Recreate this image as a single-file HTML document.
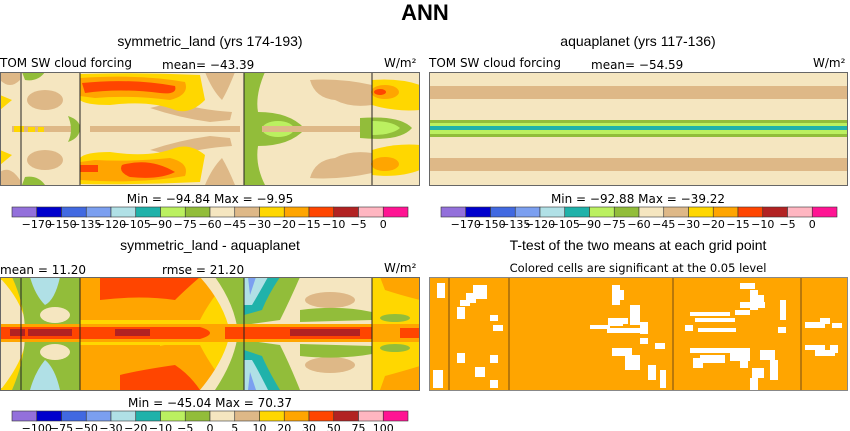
<!DOCTYPE html>
<html><head><meta charset="utf-8"><style>
html,body{margin:0;padding:0;background:#fff;width:850px;height:431px;overflow:hidden}
svg{display:block;font-family:"Liberation Sans",sans-serif}
.t{font-size:14px;fill:#000}
.s{font-size:12px;fill:#000;font-family:"DejaVu Sans","Liberation Sans",sans-serif}
.k{font-size:11px;fill:#000;font-family:"DejaVu Sans","Liberation Sans",sans-serif}
.c{font-size:11.5px;fill:#000;font-family:"DejaVu Sans","Liberation Sans",sans-serif}
</style></head><body>
<svg id="fig" width="850" height="431" viewBox="0 0 850 431">
<defs>
<clipPath id="c1"><rect x="0" y="72" width="420" height="113"/></clipPath>
<clipPath id="c2"><rect x="429" y="72" width="419" height="113"/></clipPath>
<clipPath id="c3"><rect x="0" y="277" width="420" height="113"/></clipPath>
<clipPath id="c4"><rect x="429" y="277" width="419" height="113"/></clipPath>
</defs>
<text x="425" y="20" text-anchor="middle" style="font-size:22px;font-weight:bold">ANN</text>

<!-- Panel 1 -->
<text class="t" x="210" y="46" text-anchor="middle">symmetric_land (yrs 174-193)</text>
<text class="s" x="0" y="67">TOM SW cloud forcing</text>
<text class="s" x="162" y="69">mean= −43.39</text>
<text class="s" x="384" y="67">W/m²</text>
<g clip-path="url(#c1)">
<rect x="0" y="72" width="420" height="113" fill="#f5e6c0"/>
<path d="M150 108 Q180 118 210 122 L230 120 L232 112 Q200 110 175 102 Z" fill="#deb887"/>
<path d="M150 150 Q180 140 210 136 L230 138 L232 146 Q200 148 175 156 Z" fill="#deb887"/>
<rect x="90" y="126" width="150" height="6" fill="#deb887"/>
<path d="M205 72 L235 72 Q228 90 222 100 Q212 90 205 72Z" fill="#deb887"/>
<path d="M205 185 L235 185 Q228 168 222 158 Q212 168 205 185Z" fill="#deb887"/>
<ellipse cx="45" cy="100" rx="18" ry="10" fill="#deb887"/>
<ellipse cx="45" cy="160" rx="18" ry="10" fill="#deb887"/>
<rect x="12" y="126" width="68" height="6" fill="#deb887"/>
<path d="M0 80 Q10 90 20 80 L20 72 L0 72Z" fill="#deb887"/>
<path d="M0 185 L0 172 Q10 165 20 180 L20 185Z" fill="#deb887"/>
<path d="M80 74 Q140 72 200 75 L205 100 Q190 115 175 110 Q150 100 110 105 Q85 105 80 100Z" fill="#ffd700"/>
<path d="M80 184 Q140 185 200 182 L205 155 Q190 143 175 148 Q150 158 110 152 Q85 152 80 158Z" fill="#ffd700"/>
<path d="M80 78 Q140 74 185 82 Q190 95 170 100 Q130 95 95 98 L80 96Z" fill="#ffa500"/>
<path d="M80 180 Q140 184 185 176 Q190 163 170 158 Q130 162 95 160 L80 162Z" fill="#ffa500"/>
<path d="M82 83 Q130 78 175 86 Q178 95 160 93 Q120 88 85 93Z" fill="#ff4500"/>
<path d="M122 165 Q150 157 175 172 Q160 180 130 177 Q118 172 122 165Z" fill="#ff4500"/>
<rect x="80" y="165" width="18" height="7" fill="#ff4500"/>
<path d="M0 95 L12 100 L0 110Z" fill="#ffd700"/>
<path d="M0 150 L12 155 L0 165Z" fill="#ffd700"/>
<rect x="14" y="126" width="10" height="6" fill="#ffd700"/>
<rect x="28" y="127" width="7" height="5" fill="#ffd700"/>
<rect x="38" y="127" width="6" height="5" fill="#ffd700"/>
<path d="M22 72 L45 72 Q38 82 25 80Z M22 185 L45 185 Q38 175 25 177Z" fill="#92bd3a"/>
<path d="M68 116 Q80 120 80 128 Q80 138 68 142 Q74 130 68 116Z" fill="#92bd3a"/>
<path d="M244 72 L265 72 Q255 95 258 112 Q290 112 305 129 Q290 146 258 146 Q255 165 265 185 L244 185Z" fill="#92bd3a"/>
<ellipse cx="278" cy="129" rx="16" ry="8" fill="#bbf060"/>
<path d="M310 80 Q340 78 372 85 L372 105 Q350 108 335 100 Q315 98 310 80Z" fill="#deb887"/>
<path d="M310 178 Q340 180 372 173 L372 153 Q350 150 335 158 Q315 160 310 178Z" fill="#deb887"/>
<rect x="262" y="126" width="100" height="6" fill="#deb887"/>
<path d="M372 72 L420 72 L420 185 L372 185Z" fill="#f5e6c0"/>
<path d="M372 80 Q400 78 420 85 L420 110 Q395 112 372 105Z" fill="#ffd700"/>
<path d="M372 175 Q400 178 420 170 L420 145 Q395 143 372 150Z" fill="#ffd700"/>
<ellipse cx="385" cy="92" rx="14" ry="7" fill="#ffa500"/>
<ellipse cx="385" cy="164" rx="14" ry="7" fill="#ffa500"/>
<ellipse cx="380" cy="92" rx="6" ry="3" fill="#ff4500"/>
<path d="M360 118 Q400 115 412 128 Q400 142 360 138Z" fill="#92bd3a"/>
<path d="M372 121 Q392 121 400 128 Q392 135 372 135Z" fill="#bbf060"/>
<line x1="21" y1="72" x2="21" y2="185" stroke="#222"/><line x1="80" y1="72" x2="80" y2="185" stroke="#222"/>
<line x1="244" y1="72" x2="244" y2="185" stroke="#222"/><line x1="372" y1="72" x2="372" y2="185" stroke="#222"/>
</g>
<rect x="0.5" y="72.5" width="419" height="113" fill="none" stroke="#666"/>
<text class="s" x="210" y="203" text-anchor="middle">Min = −94.84 Max =  −9.95</text>
<g id="cb1"></g>

<!-- Panel 2 -->
<text class="t" x="638" y="46" text-anchor="middle">aquaplanet (yrs 117-136)</text>
<text class="s" x="429" y="67">TOM SW cloud forcing</text>
<text class="s" x="591" y="69">mean= −54.59</text>
<text class="s" x="813" y="67">W/m²</text>
<g clip-path="url(#c2)">
<rect x="429" y="72" width="419" height="113" fill="#f5e6c0"/>
<rect x="429" y="86" width="419" height="13" fill="#deb887"/>
<rect x="429" y="158" width="419" height="13" fill="#deb887"/>
<rect x="429" y="120" width="419" height="17" fill="#92bd3a"/>
<rect x="429" y="123" width="419" height="11" fill="#bbf060"/>
<rect x="429" y="126" width="419" height="4" fill="#20b2aa"/>
</g>
<rect x="429.5" y="72.5" width="418" height="113" fill="none" stroke="#666"/>
<text class="s" x="638" y="203" text-anchor="middle">Min = −92.88 Max = −39.22</text>
<g id="cb2"></g>

<!-- Panel 3 -->
<text class="t" x="210" y="250" text-anchor="middle">symmetric_land - aquaplanet</text>
<text class="s" x="0" y="274">mean =  11.20</text>
<text class="s" x="162" y="274">rmse =  21.20</text>
<text class="s" x="384" y="272">W/m²</text>
<g clip-path="url(#c3)">
<rect x="0" y="277" width="420" height="113" fill="#ffd700"/>
<path d="M80 277 L230 277 Q210 300 200 320 L80 320Z" fill="#ffa500"/>
<path d="M80 390 L230 390 Q210 365 200 345 L80 345Z" fill="#ffa500"/>
<path d="M100 277 L200 277 Q185 290 175 300 Q140 295 100 300Z" fill="#ff4500"/>
<path d="M120 390 L200 390 Q190 375 175 365 Q140 370 120 375Z" fill="#ff4500"/>
<path d="M200 277 L244 277 L244 390 L200 390 Q225 360 230 333 Q225 305 200 277Z" fill="#f5e6c0"/>
<path d="M215 277 L244 277 L244 390 L215 390 Q235 360 238 333 Q235 305 215 277Z" fill="#92bd3a"/>
<path d="M2 280 Q20 300 25 320 L25 345 Q20 365 2 388 L0 388 L0 280Z" fill="#f5e6c0"/>
<path d="M12 277 L80 277 L80 390 L12 390 Q25 360 25 333 Q25 305 12 277Z" fill="#92bd3a"/>
<path d="M30 277 L60 277 Q55 300 45 305 Q35 295 30 277Z" fill="#b0e0e6"/>
<path d="M30 390 L60 390 Q55 368 45 360 Q35 372 30 390Z" fill="#b0e0e6"/>
<ellipse cx="55" cy="315" rx="15" ry="8" fill="#f5e6c0"/><ellipse cx="55" cy="352" rx="15" ry="8" fill="#f5e6c0"/>
<path d="M244 277 L372 277 L372 390 L244 390Z" fill="#f5e6c0"/>
<path d="M244 277 L300 277 Q290 300 280 320 L244 325Z" fill="#92bd3a"/>
<path d="M244 390 L300 390 Q290 365 280 345 L244 340Z" fill="#92bd3a"/>
<path d="M244 277 L280 277 Q268 295 262 310 L244 315Z" fill="#20b2aa"/>
<path d="M244 390 L280 390 Q268 370 262 356 L244 350Z" fill="#20b2aa"/>
<path d="M244 277 L268 277 Q258 295 252 305 L244 305Z" fill="#b0e0e6"/>
<path d="M244 390 L268 390 Q258 370 252 360 L244 360Z" fill="#b0e0e6"/>
<path d="M248 277 L256 277 L250 295Z M248 390 L256 390 L250 372Z" fill="#7b9ff0"/>
<ellipse cx="330" cy="300" rx="25" ry="8" fill="#deb887"/><ellipse cx="330" cy="365" rx="25" ry="8" fill="#deb887"/>
<path d="M300 310 Q340 305 372 312 L372 320 L300 322Z M300 356 Q340 360 372 354 L372 346 L300 344Z" fill="#92bd3a"/>
<path d="M160 320 Q200 330 244 333 Q200 337 160 346Z" fill="#ffd700"/>
<path d="M372 277 L420 277 L420 390 L372 390Z" fill="#ffd700"/>
<path d="M380 277 L420 277 L420 300 Q400 295 385 290Z M380 390 L420 390 L420 366 Q400 372 385 376Z" fill="#ffa500"/>
<ellipse cx="395" cy="318" rx="15" ry="4" fill="#92bd3a"/><ellipse cx="395" cy="348" rx="15" ry="4" fill="#92bd3a"/>
<rect x="0" y="324" width="420" height="18" fill="#ffa500"/>
<path d="M0 327 L200 327 Q220 333 200 339 L0 339Z" fill="#ff4500"/>
<path d="M225 327 L372 327 L372 339 L225 339Z" fill="#ff4500"/>
<rect x="400" y="328" width="20" height="10" fill="#ff4500"/>
<rect x="10" y="329" width="15" height="7" fill="#b22222"/>
<rect x="28" y="329" width="44" height="7" fill="#b22222"/>
<rect x="115" y="329" width="35" height="7" fill="#b22222"/>
<rect x="290" y="329" width="70" height="7" fill="#b22222"/>
<line x1="21" y1="277" x2="21" y2="390" stroke="#222"/><line x1="80" y1="277" x2="80" y2="390" stroke="#222"/>
<line x1="244" y1="277" x2="244" y2="390" stroke="#222"/><line x1="372" y1="277" x2="372" y2="390" stroke="#222"/>
</g>
<rect x="0.5" y="277.5" width="419" height="113" fill="none" stroke="#666"/>
<text class="s" x="210" y="407" text-anchor="middle">Min = −45.04 Max =  70.37</text>
<g id="cb3"></g>

<!-- Panel 4 -->
<text class="t" x="638" y="250" text-anchor="middle">T-test of the two means at each grid point</text>
<text class="c" x="638" y="272" text-anchor="middle">Colored cells are significant at the 0.05 level</text>
<g clip-path="url(#c4)">
<rect x="429" y="277" width="419" height="113" fill="#ffa500"/>
<g fill="#fff">
<rect x="437" y="283" width="8" height="15"/><rect x="433" y="370" width="10" height="18"/>
<rect x="473" y="285" width="14" height="14"/><rect x="466" y="293" width="10" height="10"/><rect x="460" y="300" width="10" height="6"/>
<rect x="457" y="307" width="8" height="12"/><rect x="490" y="315" width="8" height="6"/><rect x="493" y="325" width="10" height="6"/>
<rect x="457" y="353" width="8" height="10"/><rect x="475" y="367" width="10" height="10"/><rect x="490" y="355" width="8" height="8"/><rect x="490" y="380" width="8" height="8"/>
<rect x="612" y="285" width="8" height="20"/><rect x="618" y="290" width="6" height="10"/>
<rect x="630" y="305" width="10" height="20"/><rect x="608" y="318" width="20" height="6"/><rect x="608" y="320" width="15" height="6"/>
<rect x="607" y="328" width="40" height="5"/><rect x="590" y="325" width="20" height="4"/><rect x="640" y="322" width="8" height="12"/>
<rect x="640" y="338" width="8" height="6"/><rect x="655" y="343" width="10" height="6"/>
<rect x="612" y="348" width="20" height="8"/><rect x="625" y="355" width="15" height="15"/><rect x="648" y="365" width="8" height="15"/>
<rect x="660" y="370" width="6" height="18"/>
<rect x="740" y="283" width="15" height="6"/><rect x="750" y="290" width="8" height="20"/><rect x="740" y="302" width="25" height="6"/>
<rect x="758" y="295" width="6" height="8"/><rect x="780" y="300" width="6" height="20"/><rect x="735" y="310" width="15" height="5"/>
<rect x="690" y="312" width="40" height="4"/><rect x="695" y="318" width="40" height="4"/><rect x="685" y="325" width="8" height="6"/>
<rect x="698" y="328" width="20" height="4"/><rect x="716" y="328" width="20" height="4"/><rect x="778" y="327" width="8" height="6"/>
<rect x="690" y="348" width="60" height="5"/><rect x="700" y="355" width="25" height="8"/><rect x="693" y="358" width="10" height="10"/><rect x="730" y="353" width="20" height="8"/>
<rect x="760" y="350" width="15" height="10"/><rect x="770" y="360" width="8" height="20"/><rect x="752" y="368" width="12" height="10"/>
<rect x="750" y="378" width="8" height="12"/><rect x="740" y="360" width="8" height="8"/>
<rect x="805" y="322" width="20" height="6"/><rect x="820" y="318" width="10" height="6"/><rect x="832" y="323" width="10" height="5"/>
<rect x="805" y="345" width="20" height="5"/><rect x="815" y="350" width="20" height="6"/><rect x="830" y="345" width="8" height="8"/>
</g>
<g stroke="#8a5a10" stroke-width="1.2"><line x1="449" y1="277" x2="449" y2="390"/><line x1="509" y1="277" x2="509" y2="390"/><line x1="673" y1="277" x2="673" y2="390"/><line x1="801" y1="277" x2="801" y2="390"/></g>
</g>
<rect x="429.5" y="277.5" width="418" height="113" fill="none" stroke="#888"/>
</svg>
<script>
const cbColors = ["#9370db","#0000cd","#4169e1","#7b9ff0","#b0e0e6","#20b2aa","#bbf060","#92bd3a","#f5e6c0","#deb887","#ffd700","#ffa500","#ff4500","#b22222","#ffb6c1","#ff1493"];
const topLabels = ["−170","−150","−135","−120","−105","−90","−75","−60","−45","−30","−20","−15","−10","−5","0"];
const diffLabels = ["−100","−75","−50","−30","−20","−10","−5","0","5","10","20","30","50","75","100"];
const NS="http://www.w3.org/2000/svg";
function colorbar(id,x0,y0,w,labels){
  const g=document.getElementById(id); const bw=w/cbColors.length;
  cbColors.forEach((c,i)=>{const r=document.createElementNS(NS,'rect');
    r.setAttribute('x',x0+i*bw);r.setAttribute('y',y0);r.setAttribute('width',bw);r.setAttribute('height',10);
    r.setAttribute('fill',c);r.setAttribute('stroke','#333');r.setAttribute('stroke-width','0.6');
    
    
    g.appendChild(r);});
  labels.forEach((l,i)=>{const t=document.createElementNS(NS,'text');
    t.setAttribute('x',x0+(i+1)*bw);t.setAttribute('y',y0+21);t.setAttribute('text-anchor','middle');t.setAttribute('class','k');
    t.textContent=l;
    
    
    g.appendChild(t);});
}
colorbar('cb1',12,207,396,topLabels);
colorbar('cb2',441,207,396,topLabels);
colorbar('cb3',12,411,396,diffLabels);
</script>
</body></html>
